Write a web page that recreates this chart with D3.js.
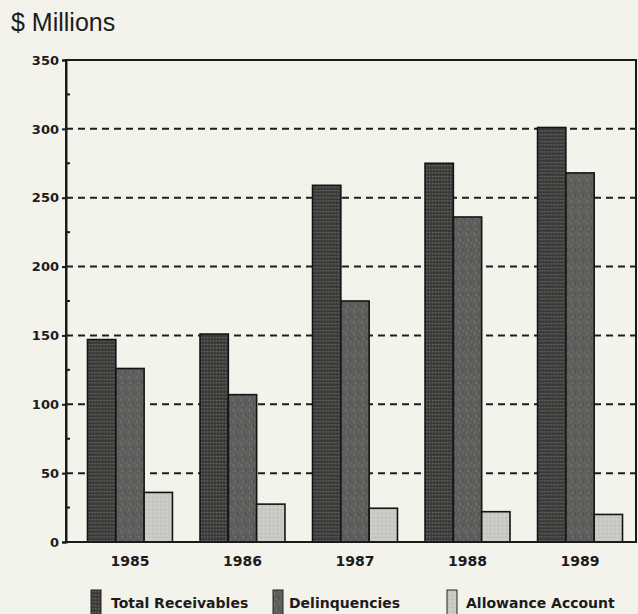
<!DOCTYPE html>
<html>
<head>
<meta charset="utf-8">
<script src="https://cdn.jsdelivr.net/npm/d3@7"></script>
<style>
  html, body { margin: 0; padding: 0; background: #f3f2eb; }
  svg { display: block; }
</style>
</head>
<body>
<svg id="chart" width="638" height="614"></svg>
<script>
// ---- data ----
const years = ["1985", "1986", "1987", "1988", "1989"];
const seriesNames = ["Total Receivables", "Delinquencies", "Allowance Account"];
const totalReceivables = [147, 151, 259, 275, 301];
const delinquencies = [126, 107, 175, 236, 268];
const allowanceAccount = [36, 27.5, 24.5, 22, 20];
const yTicks = [0, 50, 100, 150, 200, 250, 300, 350];
const yMinorTicks = [25, 75, 125, 175, 225, 275, 325];
const gridValues = [50, 100, 150, 200, 250, 300];

const seriesValues = [totalReceivables, delinquencies, allowanceAccount];

(function () {
const svg = d3.select("#chart");
const W = 638, H = 614;
svg.append("rect").attr("width", W).attr("height", H).attr("fill", "#f3f2eb");

// ---- patterns (halftone look) ----
const defs = svg.append("defs");
const p1 = defs.append("pattern").attr("id", "pTR").attr("patternUnits", "userSpaceOnUse")
  .attr("width", 3).attr("height", 3.5);
p1.append("rect").attr("width", 3).attr("height", 3.5).attr("fill", "#3a3938");
p1.append("rect").attr("x", 0.8).attr("y", 1).attr("width", 1.6).attr("height", 1).attr("fill", "#7c7a76");

const p2 = defs.append("pattern").attr("id", "pDL").attr("patternUnits", "userSpaceOnUse")
  .attr("width", 8).attr("height", 11);
p2.append("rect").attr("width", 8).attr("height", 11).attr("fill", "#605e5c");
p2.append("rect").attr("x", 1).attr("y", 2).attr("width", 1).attr("height", 3).attr("fill", "#787673");
p2.append("rect").attr("x", 5).attr("y", 6).attr("width", 1).attr("height", 4).attr("fill", "#52504e");
p2.append("rect").attr("x", 3).attr("y", 8).attr("width", 1).attr("height", 2).attr("fill", "#7d7b78");
p2.append("rect").attr("x", 6).attr("y", 0).attr("width", 1).attr("height", 2).attr("fill", "#6e6c69");

const p3 = defs.append("pattern").attr("id", "pAL").attr("patternUnits", "userSpaceOnUse")
  .attr("width", 4).attr("height", 4);
p3.append("rect").attr("width", 4).attr("height", 4).attr("fill", "#cbc9c4");
p3.append("rect").attr("x", 1).attr("y", 1).attr("width", 1).attr("height", 1).attr("fill", "#b9b7b2");
p3.append("rect").attr("x", 3).attr("y", 3).attr("width", 1).attr("height", 1).attr("fill", "#d8d6d1");

const fills = ["url(#pTR)", "url(#pDL)", "url(#pAL)"];

// ---- scales ----
const pLeft = 66, pRight = 636, pTop = 60, pBottom = 542;
const x = d3.scaleBand().domain(years).range([74, 636]).paddingInner(0.245).paddingOuter(0.12);
const xs = d3.scaleBand().domain(d3.range(seriesNames.length)).range([0, x.bandwidth()]);
const y = d3.scaleLinear().domain([0, 350]).range([pBottom, pTop]);

const font = "'DejaVu Sans', Verdana, sans-serif";

// ---- title ----
svg.append("text").attr("x", 11).attr("y", 31)
  .attr("font-family", "'Liberation Sans', Arial, Helvetica, sans-serif")
  .attr("font-size", 25).attr("fill", "#1c1c1c").text("$ Millions");

// ---- gridlines ----
svg.append("g").selectAll("line").data(gridValues).join("line")
  .attr("x1", pLeft).attr("x2", pRight)
  .attr("y1", d => y(d)).attr("y2", d => y(d))
  .attr("stroke", "#1e1e1e").attr("stroke-width", 2)
  .attr("stroke-dasharray", "7,5");

// ---- bars ----
const groups = svg.append("g").selectAll("g").data(years).join("g")
  .attr("transform", d => `translate(${x(d)},0)`);
groups.selectAll("rect").data((d, i) => seriesValues.map((s, k) => ({ k, v: s[i] })))
  .join("rect")
  .attr("x", d => xs(d.k))
  .attr("width", xs.bandwidth())
  .attr("y", d => y(d.v))
  .attr("height", d => y(0) - y(d.v))
  .attr("fill", d => fills[d.k])
  .attr("stroke", "#141414").attr("stroke-width", 1.6);

// ---- frame ----
svg.append("rect").attr("x", pLeft).attr("y", pTop)
  .attr("width", pRight - pLeft).attr("height", pBottom - pTop)
  .attr("fill", "none").attr("stroke", "#1a1a1a").attr("stroke-width", 2);

// ---- y axis ----
const yAxis = d3.axisLeft(y).tickValues(yTicks).tickSize(4).tickPadding(3);
const ya = svg.append("g").attr("transform", `translate(${pLeft},0)`).call(yAxis);
ya.select(".domain").attr("stroke", "#1a1a1a").attr("stroke-width", 2);
ya.selectAll(".tick line").attr("stroke", "#1a1a1a").attr("stroke-width", 2);
ya.selectAll(".tick text").attr("font-family", font).attr("font-weight", "bold")
  .attr("font-size", 13).attr("fill", "#1c1c1c");

// minor ticks (inside)
svg.append("g").selectAll("line").data(yMinorTicks).join("line")
  .attr("x1", pLeft).attr("x2", pLeft + 4)
  .attr("y1", d => y(d)).attr("y2", d => y(d))
  .attr("stroke", "#1a1a1a").attr("stroke-width", 2);

// ---- x labels ----
const xAxis = d3.axisBottom(x).tickSize(0).tickPadding(14);
const xa = svg.append("g").attr("transform", `translate(0,${pBottom})`).call(xAxis);
xa.select(".domain").remove();
xa.selectAll(".tick text").attr("font-family", font).attr("font-weight", "bold")
  .attr("font-size", 14).attr("fill", "#1c1c1c");

// ---- legend ----
const legendX = [91, 273, 447];
const legendTextOffset = [20, 16, 19];
const leg = svg.append("g").selectAll("g").data(seriesNames).join("g")
  .attr("transform", (d, i) => `translate(${legendX[i]},590)`);
leg.append("rect").attr("width", 10).attr("height", 26)
  .attr("fill", (d, i) => fills[i]).attr("stroke", "#222").attr("stroke-width", 1);
leg.append("text").attr("x", (d, i) => legendTextOffset[i]).attr("y", 18)
  .attr("font-family", font).attr("font-weight", "bold").attr("font-size", 14)
  .attr("fill", "#1c1c1c").text(d => d);
})();
</script>
</body>
</html>
